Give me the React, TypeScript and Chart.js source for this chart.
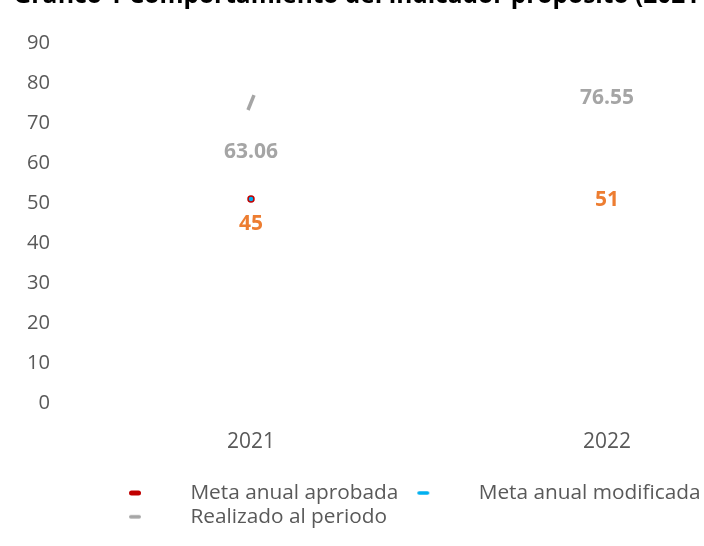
import React, { useEffect, useRef } from 'react';
import { Chart, registerables } from 'chart.js';

Chart.register(...registerables);

// ---- data ----
const categories = ['2021', '2022'];
const metaAprobada = [45, 51];
const metaModificada: (number | null)[] = [null, null];
const realizado = [63.06, 76.55];
// small stray marks visible near 2021 in the reference
const marcaMeta: (number | null)[] = [51, null];
const marcaRealizado: (number | null)[] = [75.1, null];
const legendNames = ['Meta anual aprobada', 'Meta anual modificada', 'Realizado al periodo'];
const titleText = 'Gráfico 1 Comportamiento del indicador propósito (2021-2022)';
const yMin = 0;
const yMax = 90;
const yStep = 10;

const FONT = '"Open Sans", sans-serif';
const RED = '#C00000';
const BLUE = '#00B0F0';
const GRAY = '#A5A5A5';
const ORANGE = '#ED7D31';
const TEXT = '#595959';

const OFFSET_TOP = 26;
const H = 572;
const W = 848;
const DASH_OFF = 16;
const BOX_W = 67;

function makeDash(color: string, thick: number) {
  const c = document.createElement('canvas');
  c.width = BOX_W;
  c.height = 10;
  const g = c.getContext('2d')!;
  g.strokeStyle = color;
  g.lineWidth = thick;
  g.lineCap = 'round';
  g.beginPath();
  g.moveTo(DASH_OFF + thick / 2, 5);
  g.lineTo(DASH_OFF + 12 - thick / 2, 5);
  g.stroke();
  return c;
}

function fitSize(text: string, weight: string, target: number) {
  const g = document.createElement('canvas').getContext('2d')!;
  g.font = `${weight} 20px ${FONT}`;
  return (20 * target) / g.measureText(text).width;
}

export default function App() {
  const ref = useRef<HTMLCanvasElement>(null);

  useEffect(() => {
    const canvas = ref.current!;
    const titleSize = fitSize('Gráfico 1 Comportamiento del indicador propósito (202', 'bold', 672);
    const legendSize = fitSize('Meta anual aprobada', 'normal', 208);
    const tickSize = fitSize('90', 'normal', 23);
    const xSize = fitSize('2021', 'normal', 48);
    const labelSize = fitSize('63.06', 'bold', 54);

    canvas.width = W;
    canvas.height = H;
    canvas.style.width = W + 'px';
    canvas.style.height = H + 'px';

    const chartTop = 43 + OFFSET_TOP;
    const chartBottom = 403 + OFFSET_TOP;
    const baseline = 6 + OFFSET_TOP;
    const center = baseline - 0.388 * titleSize;
    const pt = center - 0.6 * titleSize;
    const pb = chartTop - pt - 1.2 * titleSize;

    const dashes = [makeDash(RED, 5), makeDash(BLUE, 3.5), makeDash(GRAY, 3.5)];
    const legPad = 3;
    const imgStart = 129 - DASH_OFF;
    const legLeft = imgStart - legPad;
    const legTop = 493 + OFFSET_TOP - legPad - legendSize / 2;

    const valueLabels = {
      id: 'valueLabels',
      afterDatasetsDraw(chart: any) {
        const ctx = chart.ctx;
        chart.data.datasets.forEach((ds: any, i: number) => {
          if (!ds.labelColor) return;
          const meta = chart.getDatasetMeta(i);
          meta.data.forEach((pt: any, j: number) => {
            const v = ds.data[j];
            if (v == null) return;
            ctx.save();
            ctx.font = `bold ${labelSize}px ${FONT}`;
            ctx.fillStyle = ds.labelColor;
            ctx.textAlign = 'center';
            ctx.textBaseline = 'middle';
            ctx.fillText(String(v), pt.x, pt.y + 1);
            ctx.restore();
          });
        });
      },
    };

    const legendMover = {
      id: 'legendMover',
      beforeDraw(chart: any) {
        const lg = chart.legend;
        if (!lg) return;
        const w = lg.width;
        lg.left = legLeft;
        lg.right = legLeft + w;
        lg.top = legTop;
        lg.bottom = legTop + 70;
      },
    };

    const chart = new Chart(canvas, {
      type: 'line',
      data: {
        labels: categories,
        datasets: [
          { label: legendNames[0], data: metaAprobada, borderColor: RED, backgroundColor: RED, showLine: false, pointRadius: 0, labelColor: ORANGE } as any,
          { label: legendNames[1], data: metaModificada, borderColor: BLUE, backgroundColor: BLUE, showLine: false, pointRadius: 0 },
          { label: legendNames[2], data: realizado, borderColor: GRAY, backgroundColor: GRAY, showLine: false, pointRadius: 0, labelColor: GRAY } as any,
          { label: 'm1', data: marcaMeta, showLine: false, pointStyle: 'circle', pointRadius: 3, pointBackgroundColor: BLUE, pointBorderColor: RED, pointBorderWidth: 1.5 },
          { label: 'm2', data: marcaRealizado, showLine: false, pointStyle: 'line', pointRadius: 8, pointBorderColor: GRAY, pointBorderWidth: 3.5, pointRotation: -68 } as any,
        ],
      },
      options: {
        responsive: false,
        animation: false,
        devicePixelRatio: 1,
        layout: { padding: { left: 0, right: W - 785, top: 0, bottom: 0 } },
        scales: {
          x: {
            offset: true,
            grid: { display: false, drawTicks: false },
            border: { display: false },
            ticks: { color: TEXT, font: { family: FONT, size: xSize }, padding: 26 },
            afterFit: (s: any) => { s.height = H - 1 - chartBottom; },
          },
          y: {
            min: yMin,
            max: yMax,
            grid: { display: false, drawTicks: false },
            border: { display: false },
            ticks: { stepSize: yStep, color: TEXT, font: { family: FONT, size: tickSize }, padding: 23 },
            afterFit: (s: any) => { s.width = 73; },
          },
        },
        plugins: {
          title: {
            display: true,
            text: titleText,
            color: '#000000',
            font: { family: FONT, size: titleSize, weight: 'bold' },
            padding: { top: pt, bottom: pb },
          },
          legend: {
            position: 'bottom',
            align: 'start',
            maxHeight: 1,
            labels: {
              usePointStyle: true,
              pointStyleWidth: BOX_W,
              padding: legPad,
              color: TEXT,
              font: { family: FONT, size: legendSize },
              generateLabels: () =>
                legendNames.map((t, i) => ({
                  text: t,
                  fillStyle: 'transparent',
                  strokeStyle: 'transparent',
                  lineWidth: 0,
                  pointStyle: dashes[i],
                  hidden: false,
                  datasetIndex: i,
                  fontColor: TEXT,
                })),
            },
          },
          tooltip: { enabled: false },
        },
      } as any,
      plugins: [valueLabels, legendMover],
    });
    return () => chart.destroy();
  }, []);

  return (
    <div style={{ position: 'fixed', left: 0, top: 0, width: 704, height: 546, overflow: 'hidden', background: '#ffffff' }}>
      <canvas ref={ref} style={{ position: 'absolute', left: 0, top: -OFFSET_TOP }} />
    </div>
  );
}
